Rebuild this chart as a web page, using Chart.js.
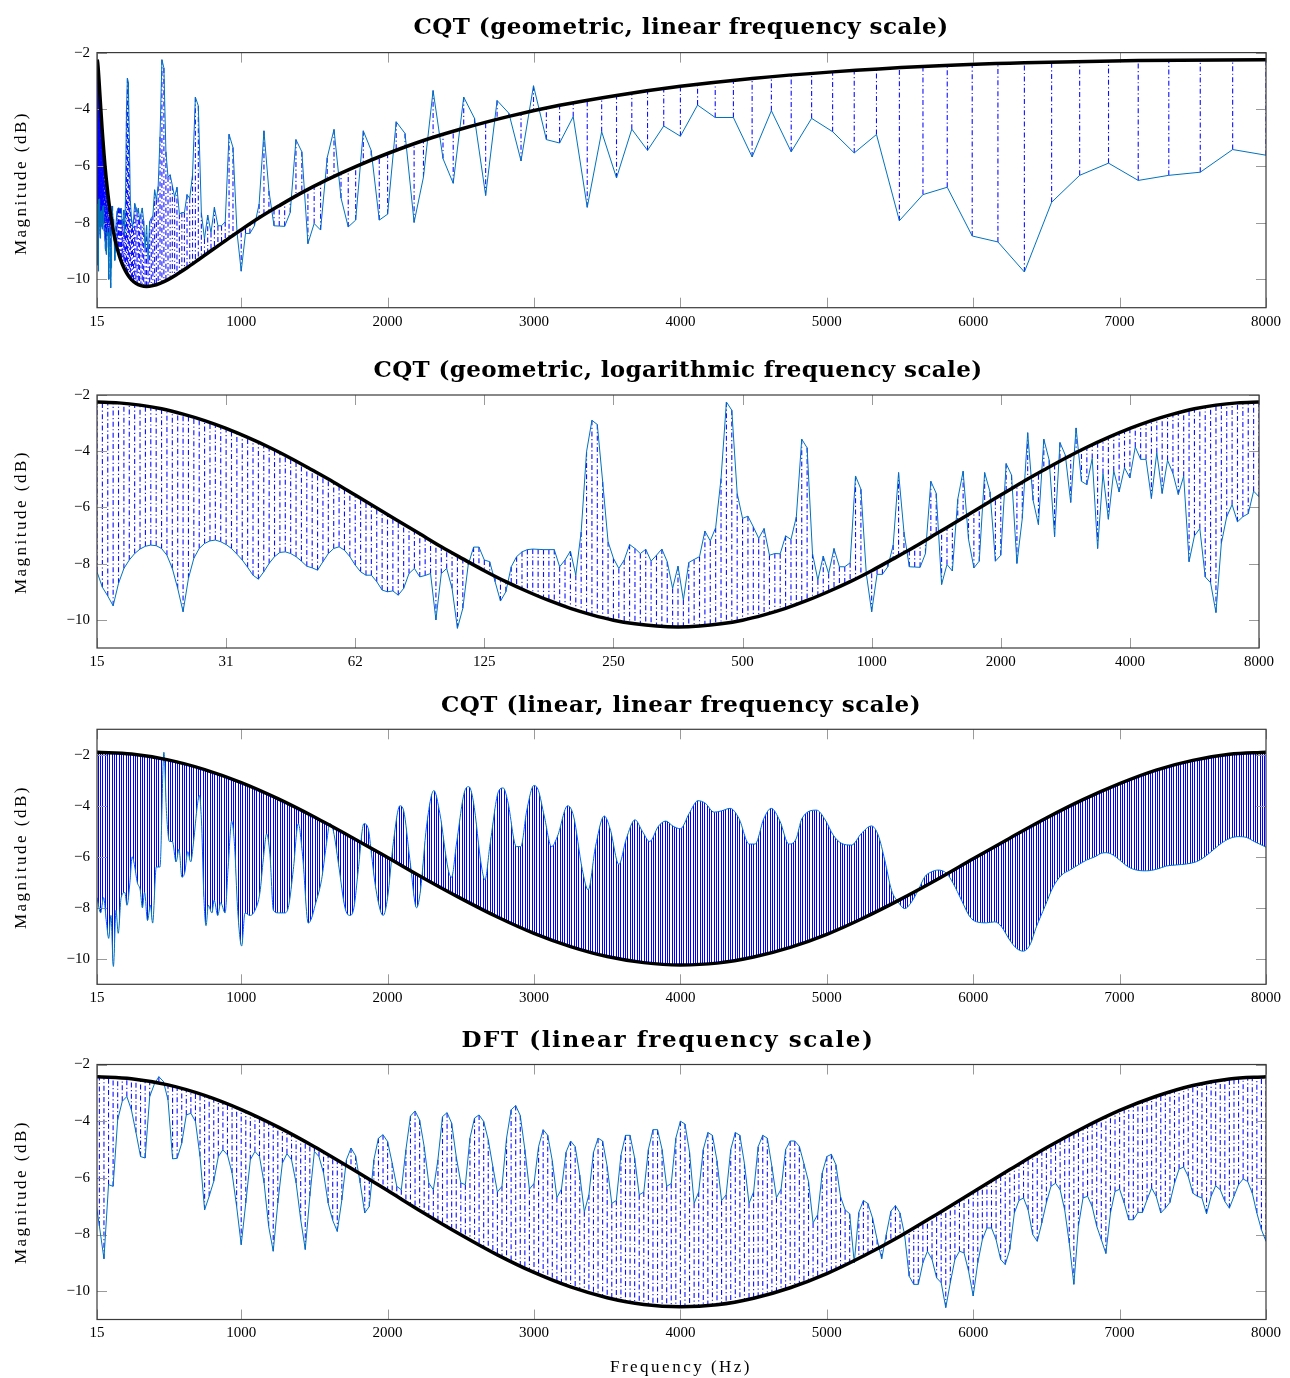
<!DOCTYPE html>
<html>
<head>
<meta charset="utf-8">
<title>CQT vs DFT</title>
<script src="https://cdn.jsdelivr.net/npm/chart.js@4.4.1/dist/chart.umd.min.js"></script>
<style>
  body { margin: 0; background: #fff; }
  #page { position: relative; width: 1290px; height: 1378px; overflow: hidden; }
  canvas { position: absolute; left: 0; }
  .lbl { position: absolute; white-space: nowrap; line-height: 1; color: #000; transform: translate(-50%, -50%); }
  .ttl { font-family: "DejaVu Serif", serif; font-weight: bold; font-size: 23px; }
  .axl { font-family: "Liberation Serif", serif; font-size: 17px; }
  .rot { transform: translate(-50%, -50%) rotate(-90deg); }
</style>
</head>
<body>
<div id="page">
  <canvas id="c1" width="1290" height="332" style="top:0px"></canvas>
  <canvas id="c2" width="1290" height="332" style="top:340px"></canvas>
  <canvas id="c3" width="1290" height="332" style="top:675px"></canvas>
  <canvas id="c4" width="1290" height="368" style="top:1010px"></canvas>

  <div class="lbl ttl" data-w="535" style="left:681px;top:25px">CQT (geometric, linear frequency scale)</div>
  <div class="lbl ttl" data-w="609" style="left:678px;top:368px">CQT (geometric, logarithmic frequency scale)</div>
  <div class="lbl ttl" data-w="480" style="left:681px;top:703px">CQT (linear, linear frequency scale)</div>
  <div class="lbl ttl" data-w="413" style="left:668px;top:1038px">DFT (linear frequency scale)</div>

  <div class="lbl axl rot" data-w="144" style="left:20px;top:183px">Magnitude (dB)</div>
  <div class="lbl axl rot" data-w="144" style="left:20px;top:522px">Magnitude (dB)</div>
  <div class="lbl axl rot" data-w="144" style="left:20px;top:857px">Magnitude (dB)</div>
  <div class="lbl axl rot" data-w="144" style="left:20px;top:1192px">Magnitude (dB)</div>
  <div class="lbl axl" data-w="142" style="left:681px;top:1366px">Frequency (Hz)</div>
</div>
<script>
// ---- axis ticks
const xTicks = [15, 1000, 2000, 3000, 4000, 5000, 6000, 7000, 8000];
const yTicks = [-10, -8, -6, -4, -2];
const logTickBins = [0, 24, 48, 72, 96, 120, 144, 168, 192, 216];
const logTickLabels = ['15', '31', '62', '125', '250', '500', '1000', '2000', '4000', '8000'];

// ---- geometric CQT: 24 bins per octave from 15.625 Hz up to 8000 Hz (panels 1 and 2)
const fMin = 15.625;
const binsPerOctave = 24;
const gcqtMag = [
  -8.29, -8.84, -9.15, -9.50, -8.70, -8.17, -7.87, -7.64, -7.48, -7.38,
  -7.34, -7.36, -7.46, -7.70, -8.17, -8.88, -9.71, -8.52, -7.81, -7.46,
  -7.28, -7.19, -7.16, -7.22, -7.32, -7.46, -7.66, -7.87, -8.13, -8.41,
  -8.55, -8.29, -7.99, -7.75, -7.60, -7.58, -7.64, -7.75, -7.91, -8.09,
  -8.15, -8.23, -7.93, -7.64, -7.46, -7.40, -7.52, -7.75, -8.05, -8.29,
  -8.41, -8.41, -8.64, -8.94, -9.00, -8.97, -9.12, -8.88, -8.35, -8.17,
  -8.47, -8.42, -8.35, -10.00, -8.35, -8.17, -8.88, -10.30, -9.59, -8.05,
  -7.41, -7.41, -7.87, -7.93, -8.64, -9.33, -9.00, -8.11, -7.75, -7.58,
  -7.50, -7.48, -7.49, -7.50, -7.50, -7.50, -8.11, -7.87, -7.55, -8.41,
  -6.87, -4.02, -2.90, -3.05, -5.09, -7.22, -7.81, -8.17, -7.87, -7.32,
  -7.46, -7.64, -7.49, -7.91, -7.70, -7.48, -7.93, -8.88, -8.09, -9.29,
  -7.96, -7.85, -7.75, -6.84, -7.19, -6.72, -4.97, -2.25, -2.54, -5.50,
  -6.39, -6.31, -6.69, -7.10, -6.75, -7.70, -7.64, -7.65, -7.01, -7.14,
  -6.33, -3.57, -3.88, -7.64, -8.58, -7.73, -8.35, -7.46, -8.11, -8.11,
  -7.97, -4.88, -5.35, -8.35, -9.71, -8.38, -8.38, -8.11, -7.34, -4.76,
  -6.87, -8.11, -8.12, -8.13, -7.64, -5.07, -5.50, -8.74, -8.03, -8.26,
  -5.71, -4.71, -7.13, -8.15, -7.91, -4.76, -5.45, -7.91, -7.70, -4.44,
  -4.85, -7.99, -6.39, -3.34, -5.74, -6.61, -3.57, -4.32, -7.04, -3.69,
  -4.14, -5.82, -3.17, -5.07, -5.19, -4.26, -7.46, -4.79, -6.42, -4.70,
  -5.45, -4.59, -4.95, -3.85, -4.29, -4.29, -5.68, -4.05, -5.50, -4.32,
  -4.79, -5.54, -4.89, -7.93, -7.01, -6.75, -8.47, -8.68, -9.74, -7.28,
  -6.33, -5.90, -6.51, -6.33, -6.22, -5.42, -5.62
];
// analysis window, read at every 4th bin
const gcqtWinBins = [
  0, 4, 8, 12, 16, 20, 24, 28, 32, 36, 40, 44, 48, 52, 56, 60, 64, 68, 72, 76,
  80, 84, 88, 92, 96, 100, 104, 108, 112, 116, 120, 124, 128, 132, 136, 140,
  144, 148, 152, 156, 160, 164, 168, 172, 176, 180, 184, 188, 192, 196, 200,
  204, 208, 212, 216
];
const gcqtWin = [
  -2.25, -2.28, -2.36, -2.49, -2.68, -2.91, -3.19, -3.51, -3.86, -4.25,
  -4.67, -5.10, -5.56, -6.02, -6.48, -6.94, -7.40, -7.83, -8.25, -8.64,
  -8.99, -9.31, -9.59, -9.82, -10.01, -10.14, -10.22, -10.25, -10.22, -10.14,
  -10.01, -9.82, -9.59, -9.31, -8.99, -8.64, -8.25, -7.83, -7.40, -6.94,
  -6.48, -6.02, -5.56, -5.10, -4.67, -4.25, -3.86, -3.51, -3.19, -2.91,
  -2.68, -2.49, -2.36, -2.28, -2.25
];

// ---- linear CQT (panel 3)
const lcqtFreq = [
  15, 40, 60, 80, 95, 110, 127, 145, 160, 180,
  205, 220, 240, 255, 270, 290, 310, 325, 340, 360,
  380, 395, 420, 445, 472, 490, 510, 530, 555, 575,
  595, 615, 635, 655, 675, 700, 715, 730, 745, 760,
  775, 800, 815, 840, 860, 890, 910, 935, 955, 975,
  1003, 1026, 1060, 1094, 1128, 1151, 1174, 1196, 1220, 1255,
  1300, 1325, 1356, 1390, 1420, 1458, 1481, 1505, 1549, 1580,
  1606, 1630, 1665, 1709, 1743, 1770, 1800, 1838, 1868, 1890,
  1913, 1950, 1970, 2000, 2040, 2084, 2110, 2152, 2198, 2225,
  2266, 2316, 2357, 2414, 2437, 2470, 2528, 2555, 2585, 2642,
  2665, 2700, 2760, 2790, 2820, 2880, 2910, 2950, 3000, 3030,
  3070, 3120, 3160, 3230, 3270, 3330, 3370, 3420, 3480, 3520,
  3580, 3630, 3690, 3740, 3790, 3850, 3900, 3950, 4000, 4060,
  4120, 4170, 4230, 4280, 4340, 4400, 4470, 4510, 4570, 4620,
  4680, 4740, 4790, 4830, 4930, 4990, 5044, 5100, 5169, 5237,
  5305, 5351, 5396, 5442, 5487, 5533, 5579, 5624, 5670, 5715,
  5761, 5818, 5863, 5920, 5977, 6023, 6091, 6148, 6193, 6250,
  6296, 6341, 6387, 6432, 6489, 6546, 6603, 6660, 6717, 6774,
  6831, 6876, 6910, 6956, 7001, 7058, 7115, 7184, 7252, 7320,
  7388, 7457, 7525, 7582, 7639, 7695, 7752, 7809, 7866, 7923,
  8000
];
const lcqtMag = [
  -7.6, -8.2, -7.6, -8.6, -9.2, -8.3, -10.3, -8.1, -9.0, -7.6,
  -7.4, -7.9, -7.0, -6.0, -6.3, -7.0, -7.3, -8.0, -7.4, -8.5,
  -7.9, -8.6, -6.4, -6.4, -1.9, -4.3, -5.4, -5.4, -6.2, -5.7,
  -6.8, -6.6, -5.8, -6.2, -5.4, -4.0, -3.6, -4.8, -7.6, -8.7,
  -7.9, -8.2, -7.7, -8.3, -7.8, -8.2, -6.5, -4.6, -5.6, -8.0,
  -9.5, -8.2, -8.3, -8.1, -7.4, -6.1, -5.1, -5.9, -8.1, -8.2,
  -8.2, -7.9, -6.5, -4.7, -6.0, -8.6, -8.4, -7.9, -6.9, -5.6,
  -4.7, -5.0, -6.3, -8.0, -8.3, -8.0, -6.5, -4.7, -4.9, -5.9,
  -7.0, -8.1, -8.3, -7.6, -5.4, -4.0, -4.2, -6.1, -8.0, -7.3,
  -4.8, -3.4, -4.3, -6.5, -6.8, -5.5, -3.4, -3.25, -3.8, -6.4,
  -6.9, -5.5, -3.4, -3.3, -3.8, -5.6, -5.6, -4.2, -3.2, -3.4,
  -4.4, -5.6, -5.2, -4.0, -4.4, -6.5, -7.3, -5.6, -4.4, -4.9,
  -6.3, -5.3, -4.55, -5.0, -5.4, -4.8, -4.6, -4.8, -4.9, -4.3,
  -3.8, -3.9, -4.25, -4.2, -4.1, -4.5, -5.5, -5.5, -4.5, -4.1,
  -4.6, -5.5, -5.3, -4.5, -4.17, -4.56, -5.15, -5.47, -5.54, -5.08,
  -4.79, -5.15, -6.13, -7.31, -7.77, -8.03, -7.77, -7.31, -6.78, -6.59,
  -6.52, -6.65, -7.04, -7.70, -8.35, -8.55, -8.59, -8.55, -8.74, -9.27,
  -9.59, -9.70, -9.46, -8.74, -7.96, -7.18, -6.72, -6.52, -6.32, -6.13,
  -6.00, -5.86, -5.84, -5.93, -6.13, -6.39, -6.52, -6.55, -6.49, -6.36,
  -6.32, -6.28, -6.19, -6.00, -5.73, -5.47, -5.28, -5.21, -5.24, -5.41,
  -5.62
];
const winFreq = [
  15, 250, 500, 750, 1000, 1250, 1500, 1750, 2000, 2250, 2500, 2750, 3000,
  3250, 3500, 3750, 4000, 4250, 4500, 4750, 5000, 5250, 5500, 5750, 6000,
  6250, 6500, 6750, 7000, 7250, 7500, 7750, 8000
];
const lcqtWin = [
  -1.90, -1.97, -2.20, -2.58, -3.09, -3.72, -4.44, -5.22, -6.03, -6.85, -7.63,
  -8.36, -9.00, -9.52, -9.91, -10.15, -10.24, -10.17, -9.93, -9.55, -9.04,
  -8.40, -7.68, -6.90, -6.08, -5.27, -4.48, -3.76, -3.13, -2.60, -2.22, -1.98, -1.90
];

// ---- DFT, 31.25 Hz bins (panel 4)
const dftBinHz = 31.25;
const dftMag = [
  -6.6, -7.7, -8.86, -6.24, -6.30, -3.95, -3.30, -3.13, -3.60, -4.40,
  -5.25, -5.30, -3.13, -2.70, -2.43, -2.60, -3.25, -5.33, -5.31, -4.78,
  -3.78, -3.72, -4.01, -5.25, -7.13, -6.65, -6.12, -5.25, -5.01, -5.19,
  -5.83, -7.01, -8.36, -6.89, -5.36, -5.07, -5.25, -6.18, -7.71, -8.59,
  -6.89, -5.48, -5.15, -5.36, -6.18, -7.47, -8.53, -6.65, -5.07, -5.25,
  -5.83, -6.89, -7.50, -7.89, -6.78, -5.36, -4.95, -5.22, -6.18, -7.24,
  -7.01, -5.36, -4.60, -4.48, -4.72, -5.48, -6.30, -6.42, -5.01, -3.82,
  -3.64, -3.96, -4.90, -6.18, -6.42, -5.36, -3.84, -3.70, -4.07, -5.25,
  -6.18, -6.24, -4.60, -3.89, -3.78, -4.01, -4.66, -5.6, -6.5, -6.3,
  -4.6, -3.6, -3.45, -3.8, -5.0, -6.4, -6.2, -4.9, -4.3, -4.5,
  -5.4, -6.7, -6.4, -5.1, -4.7, -4.9, -5.9, -7.2, -6.6, -5.1,
  -4.6, -4.7, -5.6, -6.9, -6.8, -5.2, -4.5, -4.5, -5.3, -6.6,
  -6.5, -5.0, -4.3, -4.3, -5.0, -6.3, -6.2, -4.6, -4.0, -4.1,
  -5.1, -6.9, -6.5, -5.0, -4.4, -4.5, -5.4, -6.8, -6.6, -5.0,
  -4.4, -4.5, -5.5, -6.9, -6.5, -4.9, -4.5, -4.6, -5.6, -6.7,
  -6.4, -5.0, -4.7, -4.7, -4.89, -5.5, -6.13, -7.59, -7.3, -5.83,
  -5.25, -5.17, -5.54, -6.66, -7.13, -7.27, -9.00, -7.22, -6.80, -6.91,
  -7.42, -8.18, -8.86, -8.00, -7.18, -6.98, -7.24, -8.00, -9.47, -9.76,
  -9.76, -9.00, -8.59, -8.88, -9.53, -9.70, -10.58, -9.70, -8.88, -8.59,
  -8.65, -9.30, -10.17, -9.00, -8.18, -7.77, -7.77, -8.18, -8.88, -9.06,
  -8.53, -7.24, -6.80, -6.71, -7.13, -8.00, -8.24, -7.59, -6.88, -6.30,
  -6.19, -6.42, -7.13, -8.30, -9.76, -7.71, -6.71, -6.65, -7.01, -7.71,
  -8.18, -8.67, -7.24, -6.48, -6.40, -6.89, -7.48, -7.48, -7.22, -7.22,
  -6.77, -6.36, -6.65, -7.24, -7.07, -6.87, -6.19, -5.69, -5.62, -5.95,
  -6.54, -6.65, -6.71, -7.27, -6.65, -6.28, -6.42, -6.83, -7.07, -6.65,
  -6.24, -6.04, -6.13, -6.54, -7.24, -7.83, -8.24
];
const dftWin = [
  -2.43, -2.50, -2.72, -3.09, -3.59, -4.20, -4.90, -5.66, -6.45, -7.25, -8.01,
  -8.72, -9.34, -9.85, -10.23, -10.47, -10.55, -10.48, -10.25, -9.88, -9.38,
  -8.76, -8.06, -7.29, -6.50, -5.71, -4.94, -4.24, -3.62, -3.12, -2.74, -2.51, -2.43
];

// ---- styling
const BLUE_LINE = '#0072BD';
const STEM = 'rgba(0, 0, 255, 0.95)';
const tickFont = { family: 'Liberation Serif', size: 15 };

const binHz = k => fMin * Math.pow(2, k / binsPerOctave);
const minus = v => String(v).replace('-', '\u2212');

// fit letter spacing of the html labels to the widths of the original
document.querySelectorAll('[data-w]').forEach(el => {
    const g = document.createElement('canvas').getContext('2d');
    const cs = getComputedStyle(el);
    g.font = cs.fontWeight + ' ' + cs.fontSize + ' ' + cs.fontFamily;
    const txt = el.textContent;
    const w = g.measureText(txt).width;
    el.style.letterSpacing = ((+el.dataset.w - w) / txt.length).toFixed(2) + 'px';
});

// dash-dotted stems from each spectrum point up (or down) to the window curve
const stems = {
    id: 'stems',
    beforeDatasetsDraw(chart, args, opts) {
        if (!opts || opts.sig === undefined) return;
        const ctx = chart.ctx, a = chart.chartArea;
        const env = chart.getDatasetMeta(opts.env).dataset;
        const pts = chart.getDatasetMeta(opts.sig).data;
        ctx.save();
        ctx.beginPath();
        ctx.rect(a.left, a.top, a.width, a.height);
        ctx.clip();
        ctx.strokeStyle = STEM;
        ctx.lineWidth = 1.1;
        ctx.setLineDash([5, 2.5, 1.2, 2.5]);
        pts.forEach(p => {
            let q = env.interpolate({ x: p.x }, 'x');
            if (Array.isArray(q)) q = q[0];
            if (!q) return;
            ctx.beginPath();
            ctx.moveTo(p.x, p.y);
            ctx.lineTo(p.x, q.y);
            ctx.stroke();
        });
        ctx.restore();
    }
};

// box and inward tick marks
const frame = {
    id: 'frame',
    beforeDatasetsDraw(chart) {
        const { ctx, chartArea: a, scales: { x, y } } = chart;
        ctx.save();
        ctx.strokeStyle = '#9a9a9a';
        ctx.lineWidth = 1;
        ctx.beginPath();
        x.ticks.forEach(t => {
            const px = Math.round(x.getPixelForValue(t.value)) + 0.5;
            ctx.moveTo(px, a.top); ctx.lineTo(px, a.top + 10);
            ctx.moveTo(px, a.bottom); ctx.lineTo(px, a.bottom - 10);
        });
        y.ticks.forEach(t => {
            const py = Math.round(y.getPixelForValue(t.value)) + 0.5;
            ctx.moveTo(a.left, py); ctx.lineTo(a.left + 10, py);
            ctx.moveTo(a.right, py); ctx.lineTo(a.right - 10, py);
        });
        ctx.stroke();
        ctx.restore();
    },
    afterDatasetsDraw(chart) {
        const { ctx, chartArea: a } = chart;
        ctx.save();
        ctx.strokeStyle = '#3a3a3a';
        ctx.lineWidth = 1.2;
        ctx.strokeRect(a.left, a.top, a.width, a.height);
        ctx.restore();
    }
};

function hatch() {
    const c = document.createElement('canvas');
    c.width = 7; c.height = 4;
    const g = c.getContext('2d');
    g.fillStyle = '#0000ff';
    g.fillRect(0, 0, 1, 4);
    g.fillRect(2, 0, 1, 4);
    g.fillRect(4, 0, 1, 4);
    return g.createPattern(c, 'repeat');
}

function options(p) {
    return {
        responsive: false,
        animation: false,
        devicePixelRatio: 1,
        events: [],
        layout: { padding: { top: p.top, right: p.right, left: 0, bottom: 0 } },
        plugins: {
            legend: { display: false },
            tooltip: { enabled: false },
            filler: { drawTime: 'beforeDatasetsDraw' },
            stems: p.stems
        },
        scales: {
            x: {
                type: 'linear', min: p.xMin, max: p.xMax,
                grid: { display: false, drawTicks: false },
                border: { display: false },
                ticks: { autoSkip: false, maxRotation: 0, padding: 5, color: '#000', font: tickFont, callback: p.xLabel },
                afterBuildTicks: s => { s.ticks = p.xTicks.map(v => ({ value: v })); },
                afterFit: s => { s.height = p.xAxisH; }
            },
            y: {
                type: 'linear', min: -11, max: p.yMax,
                grid: { display: false, drawTicks: false },
                border: { display: false },
                ticks: { padding: 7, color: '#000', font: tickFont, callback: v => minus(v) },
                afterBuildTicks: s => { s.ticks = yTicks.map(v => ({ value: v })); },
                afterFit: s => { s.width = 97; }
            }
        }
    };
}

const envStyle = { borderColor: '#000', borderWidth: 3.5, pointRadius: 0, cubicInterpolationMode: 'monotone', fill: false };
const sigStyle = { borderColor: BLUE_LINE, borderWidth: 1, pointRadius: 0, tension: 0, fill: false };

// panel 1: geometric CQT on a linear axis
new Chart(document.getElementById('c1'), {
    type: 'line',
    data: {
        datasets: [
            Object.assign({ data: gcqtWinBins.map((k, i) => ({ x: binHz(k), y: gcqtWin[i] })) }, envStyle),
            Object.assign({ data: gcqtMag.map((v, k) => ({ x: binHz(k), y: v })) }, sigStyle)
        ]
    },
    options: options({ top: 52.6, right: 24, xAxisH: 24.3, xMin: 15, xMax: 8000, yMax: -2,
        xTicks: xTicks, xLabel: v => String(v), stems: { env: 0, sig: 1 } }),
    plugins: [stems, frame]
});

// panel 2: same CQT against bin index (log frequency)
new Chart(document.getElementById('c2'), {
    type: 'line',
    data: {
        datasets: [
            Object.assign({ data: gcqtWinBins.map((k, i) => ({ x: k, y: gcqtWin[i] })) }, envStyle),
            Object.assign({ data: gcqtMag.map((v, k) => ({ x: k, y: v })) }, sigStyle)
        ]
    },
    options: options({ top: 55, right: 31, xAxisH: 24, xMin: 0, xMax: 216, yMax: -2,
        xTicks: logTickBins, xLabel: v => logTickLabels[logTickBins.indexOf(v)], stems: { env: 0, sig: 1 } }),
    plugins: [stems, frame]
});

// panel 3: linear CQT, region between the curves hatched
new Chart(document.getElementById('c3'), {
    type: 'line',
    data: {
        datasets: [
            Object.assign({ data: winFreq.map((f, i) => ({ x: f, y: lcqtWin[i] })) }, envStyle),
            Object.assign({}, sigStyle, {
                data: lcqtFreq.map((f, i) => ({ x: f, y: lcqtMag[i] })),
                cubicInterpolationMode: 'monotone',
                fill: { target: 0 },
                backgroundColor: hatch()
            })
        ]
    },
    options: options({ top: 54.3, right: 24, xAxisH: 22.7, xMin: 15, xMax: 8000, yMax: -1,
        xTicks: xTicks, xLabel: v => String(v) }),
    plugins: [frame]
});

// panel 4: DFT
new Chart(document.getElementById('c4'), {
    type: 'line',
    data: {
        datasets: [
            Object.assign({ data: winFreq.map((f, i) => ({ x: f, y: dftWin[i] })) }, envStyle),
            Object.assign({ data: dftMag.map((v, k) => ({ x: k * dftBinHz, y: v })) }, sigStyle)
        ]
    },
    options: options({ top: 54.5, right: 24, xAxisH: 58.5, xMin: 15, xMax: 8000, yMax: -2,
        xTicks: xTicks, xLabel: v => String(v), stems: { env: 0, sig: 1 } }),
    plugins: [stems, frame]
});
</script>
</body>
</html>
